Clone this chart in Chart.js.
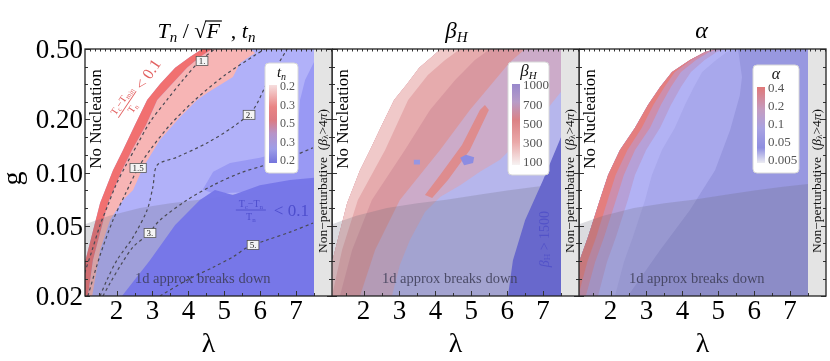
<!DOCTYPE html>
<html><head><meta charset="utf-8">
<script src="https://cdn.jsdelivr.net/npm/chart.js@4.4.1/dist/chart.umd.min.js"></script>
<style>
html,body{margin:0;padding:0;background:#fff;}
#wrap{position:relative;width:830px;height:361px;overflow:hidden;background:#fff;}
canvas{position:absolute;top:0;}
</style></head><body>
<div id="wrap">
<canvas id="p1" width="333" height="361" style="left:0px"></canvas>
<canvas id="p2" width="248" height="361" style="left:332px"></canvas>
<canvas id="p3" width="251" height="361" style="left:579px"></canvas>
</div>
<script>
// ---------------- DATA (λ, g) ----------------
const lambdaRange = [1.12, 8.0];
const gRange = [0.02, 0.5];
const lambdaTicks = [2, 3, 4, 5, 6, 7];
const lambdaMinorTicks = [1.5, 2.5, 3.5, 4.5, 5.5, 6.5, 7.5];
const topTickStep = 0.14;
const gTicks = [0.02, 0.05, 0.1, 0.2, 0.5];
const gTickLabels = ['0.02', '0.05', '0.10', '0.20', '0.50'];
const gMinorTicks = [0.0251, 0.0316, 0.0398, 0.063, 0.0794, 0.126, 0.159, 0.2515, 0.316, 0.398];
const perturbativeLimit = 7.5;
const lambdaEnd = 8.2;

// shared: "1d approx breaks down" upper edge
const oneDEdge = [[0.9,0.050],[1.12,0.051],[1.80,0.057],[2.65,0.063],[3.50,0.067],[4.30,0.070],[5.25,0.075],[6.00,0.079],[6.80,0.083],[7.50,0.086]];

// Panel 1: Tn/sqrt(F), t_n
const nucleationEdge = [[0.87,0.020],[1.12,0.0311],[1.54,0.0672],[1.90,0.103],[2.18,0.134],[2.51,0.186],[2.85,0.257],[3.21,0.317],[3.63,0.391],[4.04,0.450],[4.38,0.50]];
const strongEdge = [[1.20,0.020],[1.34,0.0319],[1.76,0.0672],[2.15,0.103],[2.43,0.134],[2.82,0.186],[3.13,0.257],[3.54,0.317],[3.96,0.391],[4.32,0.450],[4.66,0.50]];
const tnPinkEdge = [[5.72,0.50],[5.86,0.475],[5.44,0.417],[5.24,0.347],[4.52,0.282],[4.24,0.257],[3.77,0.206],[3.21,0.153],[2.74,0.107],[2.46,0.0796],[2.18,0.0698],[1.82,0.0538],[1.54,0.0364],[1.32,0.020]];
const tnMidRegion = [[7.50,0.422],[7.25,0.334],[7.11,0.257],[7.05,0.174],[6.83,0.134],[5.99,0.121],[5.16,0.113],[4.69,0.101],[4.40,0.080],[4.70,0.076],[7.50,0.080]];
const tcTnRegion = [[2.15,0.020],[2.93,0.0319],[3.63,0.0504],[4.32,0.0698],[4.74,0.0796],[5.24,0.0746],[5.99,0.0848],[6.83,0.0906],[7.50,0.0933],[7.50,0.020]];
const contour1 = [[0.98,0.0216],[1.12,0.0273],[1.32,0.0364],[1.54,0.0504],[1.76,0.0655],[1.98,0.0848],[2.26,0.110],[2.57,0.143],[2.93,0.193],[3.40,0.257],[3.85,0.334],[4.32,0.428],[4.74,0.50]];
const contour15 = [[1.20,0.020],[1.54,0.0340],[1.90,0.0538],[2.23,0.0746],[2.60,0.106],[2.93,0.134],[3.49,0.186],[4.18,0.257],[5.02,0.356],[5.86,0.462],[6.13,0.50]];
const contour2 = [[1.54,0.020],[1.73,0.0246],[2.01,0.0319],[2.46,0.0431],[2.85,0.0613],[3.01,0.0826],[3.13,0.110],[3.68,0.122],[4.52,0.147],[5.24,0.181],[5.80,0.226],[6.19,0.321],[6.75,0.50]];
const contour3 = [[1.62,0.020],[1.82,0.0237],[2.15,0.0307],[2.46,0.0379],[2.85,0.0443],[3.21,0.0538],[3.96,0.0698],[4.69,0.0848],[5.44,0.0993],[6.13,0.110],[6.83,0.122],[7.47,0.138]];
const contour5 = [[3.21,0.020],[3.96,0.0246],[4.69,0.0291],[5.24,0.0333],[5.66,0.0379],[6.19,0.0415],[6.83,0.046],[7.47,0.0517]];
const contourLabels = [['1.',4.38,0.428],['1.5',2.60,0.106],['2.',5.69,0.212],['3.',2.93,0.0454],['5.',5.80,0.0389]];
const tnBarLabels = ['0.2','0.3','0.5','0.3','0.2'];

// Panel 2: beta_H
const nucleationEdgeB = [[0.87,0.02],[1.12,0.031],[1.54,0.067],[1.90,0.103],[2.18,0.134],[2.51,0.186],[2.85,0.257],[3.21,0.317],[3.55,0.391],[3.90,0.450],[4.15,0.50]];
const beta300Edge = [[1.12,0.02],[1.40,0.0364],[1.84,0.0698],[2.60,0.134],[3.24,0.257],[3.79,0.356],[4.27,0.433],[4.69,0.5]];
const beta500Edge = [[1.34,0.02],[1.68,0.0364],[2.23,0.0698],[3.15,0.134],[3.85,0.226],[4.55,0.334],[5.10,0.433],[5.52,0.5]];
const beta700Edge = [[1.90,0.02],[2.32,0.0364],[3.01,0.0698],[4.13,0.134],[4.96,0.226],[5.66,0.334],[6.08,0.422],[6.50,0.5]];
const beta1000Edge = [[7.5,0.286],[6.91,0.203],[6.36,0.153],[5.80,0.118],[5.24,0.101],[4.69,0.0848],[4.13,0.0727],[3.71,0.0598],[3.29,0.0415],[3.01,0.0300],[2.79,0.02]];
const beta1500Region = [[7.5,0.159],[7.0,0.0906],[6.5,0.0538],[6.16,0.0319],[6.02,0.02],[7.5,0.02]];
const betaStreak = [[5.38,0.241],[5.49,0.226],[4.96,0.134],[4.35,0.0906],[3.91,0.0717],[3.71,0.0746],[4.13,0.0968],[4.74,0.143],[5.24,0.226]];
const betaSpotA = [[4.69,0.121],[4.85,0.126],[5.08,0.122],[5.05,0.113],[4.80,0.110]];
const betaSpotB = [[3.40,0.118],[3.57,0.118],[3.57,0.111],[3.40,0.111]];
const betaBarLabels = ['1000','700','500','300','100'];

// Panel 3: alpha
const nucleationEdgeA = [[0.87,0.020],[1.12,0.0311],[1.37,0.0431],[1.70,0.0698],[1.93,0.0968],[2.26,0.134],[2.68,0.179],[3.04,0.241],[3.38,0.305],[3.71,0.370],[4.21,0.433],[4.63,0.481],[4.91,0.5]];
const alpha04Edge = [[1.10,0.020],[1.35,0.0311],[1.60,0.0431],[1.92,0.0698],[2.14,0.0968],[2.47,0.134],[2.87,0.179],[3.19,0.241],[3.50,0.305],[3.79,0.370],[4.25,0.433],[4.65,0.481],[4.92,0.5]];
const alpha02Edge = [[1.31,0.020],[1.57,0.0311],[1.82,0.0431],[2.15,0.0698],[2.37,0.0968],[2.68,0.134],[3.10,0.179],[3.40,0.241],[3.68,0.305],[3.96,0.370],[4.38,0.433],[4.75,0.481],[5.01,0.5]];
const alpha01Edge = [[1.65,0.020],[1.90,0.0311],[2.15,0.0431],[2.48,0.0698],[2.68,0.0968],[2.99,0.134],[3.38,0.179],[3.68,0.241],[3.96,0.305],[4.24,0.370],[4.62,0.433],[4.96,0.481],[5.20,0.5]];
const alpha005Edge = [[2.12,0.020],[2.37,0.0311],[2.62,0.0431],[2.96,0.0698],[3.15,0.0968],[3.43,0.134],[3.79,0.179],[4.07,0.241],[4.32,0.305],[4.55,0.370],[4.94,0.433],[5.24,0.481],[5.47,0.5]];
const alphaLowEdge = [[2.48,0.02],[3.38,0.0364],[4.21,0.0613],[4.91,0.103],[5.33,0.174],[5.60,0.274],[5.66,0.347],[5.55,0.5]];
const alphaBarLabels = ['0.4','0.2','0.1','0.05','0.005'];

// ---------------- helpers ----------------
const SERIF = "'Liberation Serif','Times New Roman',serif";
const P = a => a.map(([x, y]) => ({x, y}));
const rev = a => a.slice().reverse();
function region(points, color) {
  return {type:'line', data:P(points), fill:'shape', backgroundColor:color, borderColor:'rgba(0,0,0,0)', borderWidth:0, pointRadius:0, tension:0};
}
function dashed(points) {
  return {type:'line', data:P(points), fill:false, borderColor:'#4a4a55', borderWidth:1.2, borderDash:[3,3], pointRadius:0, tension:0.3};
}
const nonPert = [[perturbativeLimit,0.015],[perturbativeLimit,0.6],[lambdaEnd,0.6],[lambdaEnd,0.015]];
const GREY_OVER = 'rgba(105,105,120,0.24)';
const oneDRegion = [...oneDEdge, [7.5,0.015],[0.9,0.015]];

function rich(ctx, parts, x, y, align) {
  let w = 0;
  for (const p of parts) { ctx.font = p.f; w += ctx.measureText(p.t).width; }
  let cx = align === 'center' ? x - w/2 : (align === 'right' ? x - w : x);
  ctx.textAlign = 'left';
  for (const p of parts) {
    ctx.font = p.f;
    const tw = ctx.measureText(p.t).width;
    ctx.fillText(p.t, cx, y + (p.dy || 0));
    if (p.over) { ctx.save(); ctx.lineWidth = 1.2; ctx.strokeStyle = ctx.fillStyle; ctx.beginPath(); ctx.moveTo(cx - 1, y - p.over); ctx.lineTo(cx + tw + 2, y - p.over); ctx.stroke(); ctx.restore(); }
    cx += tw;
  }
  return w;
}
function rotText(ctx, parts, cx, cy, ang, color) {
  ctx.save(); ctx.translate(cx, cy); ctx.rotate(ang); ctx.fillStyle = color; ctx.textBaseline = 'middle';
  rich(ctx, parts, 0, 0, 'center'); ctx.restore();
}
function roundBox(ctx, x, y, w, h, r) {
  ctx.beginPath(); ctx.moveTo(x+r, y); ctx.lineTo(x+w-r, y); ctx.quadraticCurveTo(x+w, y, x+w, y+r);
  ctx.lineTo(x+w, y+h-r); ctx.quadraticCurveTo(x+w, y+h, x+w-r, y+h); ctx.lineTo(x+r, y+h);
  ctx.quadraticCurveTo(x, y+h, x, y+h-r); ctx.lineTo(x, y+r); ctx.quadraticCurveTo(x, y, x+r, y); ctx.closePath();
}
function colorbar(ctx, bx, by, bw, bh, titleParts, labels, stops, fs) {
  ctx.save();
  roundBox(ctx, bx, by, bw, bh, 4); ctx.fillStyle = '#fff'; ctx.fill(); ctx.strokeStyle = '#d8d8d8'; ctx.lineWidth = 1; ctx.stroke();
  ctx.fillStyle = '#111'; ctx.textBaseline = 'alphabetic';
  rich(ctx, titleParts, bx + bw/2, by + 14, 'center');
  const x0 = bx + 4, y0 = by + 22, y1 = by + bh - 10;
  const g = ctx.createLinearGradient(0, y0, 0, y1);
  stops.forEach(([o, c]) => g.addColorStop(o, c));
  ctx.fillStyle = g; ctx.fillRect(x0, y0, 8, y1 - y0);
  ctx.fillStyle = '#555'; ctx.font = fs + 'px ' + SERIF; ctx.textAlign = 'left'; ctx.textBaseline = 'middle';
  labels.forEach((t, i) => ctx.fillText(t, x0 + 11, y0 + 2 + i * (y1 - y0 - 4) / (labels.length - 1)));
  ctx.restore();
}

function decor(extra, yLabels) {
  return {
    id: 'decor',
    afterDatasetsDraw(chart) {
      const {ctx, chartArea: a, scales: {x, y}} = chart;
      ctx.save();
      extra(ctx, a, x, y);
      ctx.strokeStyle = '#333'; ctx.lineWidth = 1;
      ctx.beginPath();
      for (const v of lambdaTicks) { const px = Math.round(x.getPixelForValue(v)) + 0.5; ctx.moveTo(px, a.bottom); ctx.lineTo(px, a.bottom - 5); }
      for (const v of lambdaMinorTicks) { const px = Math.round(x.getPixelForValue(v)) + 0.5; ctx.moveTo(px, a.bottom); ctx.lineTo(px, a.bottom - 3); }
      for (let v = lambdaRange[0] + topTickStep; v < lambdaRange[1]; v += topTickStep) { const px = Math.round(x.getPixelForValue(v)) + 0.5; ctx.moveTo(px, a.top); ctx.lineTo(px, a.top + 2.5); }
      for (const v of gTicks) { const py = Math.round(y.getPixelForValue(v)) + 0.5; ctx.moveTo(a.left, py); ctx.lineTo(a.left + 5, py); ctx.moveTo(a.right, py); ctx.lineTo(a.right - 5, py); }
      for (const v of gMinorTicks) { const py = Math.round(y.getPixelForValue(v)) + 0.5; ctx.moveTo(a.left, py); ctx.lineTo(a.left + 3, py); ctx.moveTo(a.right, py); ctx.lineTo(a.right - 3, py); }
      ctx.stroke();
      ctx.lineWidth = 1.3; ctx.strokeStyle = '#222';
      ctx.strokeRect(a.left, a.top, a.right - a.left, a.bottom - a.top);
      ctx.fillStyle = '#000'; ctx.textAlign = 'center'; ctx.textBaseline = 'alphabetic';
      ctx.font = '27px ' + SERIF;
      for (const v of lambdaTicks) ctx.fillText(String(v), x.getPixelForValue(v), a.bottom + 23);
      ctx.font = '28px ' + SERIF;
      ctx.fillText('λ', (a.left + a.right) / 2, a.bottom + 56);
      if (yLabels) {
        ctx.textAlign = 'right'; ctx.font = '27px ' + SERIF;
        gTicks.forEach((v, i) => ctx.fillText(gTickLabels[i], a.left - 2, y.getPixelForValue(v) + 9));
        ctx.save(); ctx.translate(a.left - 71, (a.top + a.bottom) / 2 + 6); ctx.rotate(-Math.PI / 2);
        ctx.textAlign = 'center'; ctx.textBaseline = 'middle'; ctx.font = '28px ' + SERIF; ctx.fillText('g', 0, 0); ctx.restore();
      }
      ctx.restore();
    }
  };
}

function commonText(ctx, a, x, y) {
  rotText(ctx, [{t:'No Nucleation', f:'17px ' + SERIF}], a.left + 12, a.top + 70, -Math.PI/2, '#000');
  const it = 'italic 13.5px ' + SERIF, rm = '13.5px ' + SERIF;
  rotText(ctx, [{t:'Non\u2212perturbative  (', f:rm}, {t:'\u03B2', f:it}, {t:'\u03BB', f:'9px ' + SERIF, dy:3}, {t:'>4', f:rm}, {t:'\u03C0', f:it}, {t:')', f:rm}],
    x.getPixelForValue((perturbativeLimit + 8.0) / 2), a.top + 132, -Math.PI/2, '#111');
  ctx.fillStyle = 'rgba(60,60,85,0.85)'; ctx.textAlign = 'center'; ctx.textBaseline = 'alphabetic';
  ctx.font = '14.5px ' + SERIF;
  ctx.fillText('1d approx breaks down', x.getPixelForValue(4.4), a.bottom - 13);
}

const baseOptions = (padL, padR) => ({
  responsive: false, animation: false, events: [],
  layout: {padding: {left: padL, right: padR, top: 49, bottom: 65}},
  scales: {
    x: {type: 'linear', min: lambdaRange[0], max: lambdaRange[1], display: false},
    y: {type: 'logarithmic', min: gRange[0], max: gRange[1], display: false}
  },
  plugins: {legend: {display: false}, tooltip: {enabled: false}, title: {display: false}},
  elements: {point: {radius: 0}}
});
function build(id, layers, plugin, padL, padR) {
  layers.forEach((d, i) => d.order = -i);
  return new Chart(document.getElementById(id), {type: 'line', data: {datasets: layers}, options: baseOptions(padL, padR), plugins: [plugin]});
}

// ---------------- Panel 1 ----------------
build('p1', [
  region([...nucleationEdge, [7.5,0.6],[7.5,0.015]], 'rgb(177,177,249)'),
  region(tnMidRegion, 'rgb(153,153,244)'),
  region([...strongEdge, ...tnPinkEdge], 'rgb(247,181,181)'),
  region([...nucleationEdge, ...rev(strongEdge)], 'rgb(241,112,112)'),
  region(oneDRegion, GREY_OVER),
  region(tcTnRegion, 'rgba(118,118,232,0.96)'),
  region(nonPert, 'rgb(228,228,228)'),
  dashed(contour1), dashed(contour15), dashed(contour2), dashed(contour3), dashed(contour5)
], decor((ctx, a, x, y) => {
  commonText(ctx, a, x, y);
  ctx.font = '9px ' + SERIF; ctx.textAlign = 'center'; ctx.textBaseline = 'middle';
  for (const [t, lx, lg] of contourLabels) {
    const px = x.getPixelForValue(lx), py = y.getPixelForValue(lg);
    const w = ctx.measureText(t).width + 5;
    ctx.fillStyle = '#f4f4f4'; ctx.fillRect(px - w/2, py - 4.5, w, 9);
    ctx.strokeStyle = '#555'; ctx.lineWidth = 0.8; ctx.strokeRect(px - w/2, py - 4.5, w, 9);
    ctx.fillStyle = '#222'; ctx.fillText(t, px, py + 0.5);
  }
  ctx.save(); ctx.translate(x.getPixelForValue(2.62), y.getPixelForValue(0.30)); ctx.rotate(-0.98);
  ctx.fillStyle = 'rgb(226,96,96)'; ctx.textBaseline = 'alphabetic';
  rich(ctx, [{t:'T', f:'10px ' + SERIF}, {t:'c', f:'7px ' + SERIF, dy:2}, {t:'\u2212T', f:'10px ' + SERIF}, {t:'min', f:'7px ' + SERIF, dy:2}], -20, -4, 'center');
  ctx.fillRect(-36, -1, 32, 0.9);
  rich(ctx, [{t:'T', f:'10px ' + SERIF}, {t:'n', f:'7px ' + SERIF, dy:2}], -20, 9, 'center');
  ctx.font = '16px ' + SERIF; ctx.textAlign = 'left'; ctx.fillText('< 0.1', 0, 5);
  ctx.restore();
  const bx = x.getPixelForValue(5.74), by = y.getPixelForValue(0.0613);
  ctx.fillStyle = 'rgb(78,78,205)'; ctx.textBaseline = 'alphabetic';
  rich(ctx, [{t:'T', f:'10px ' + SERIF}, {t:'c', f:'7px ' + SERIF, dy:2}, {t:'\u2212T', f:'10px ' + SERIF}, {t:'n', f:'7px ' + SERIF, dy:2}], bx, by - 3, 'center');
  ctx.fillRect(bx - 15, by - 0.5, 30, 0.9);
  rich(ctx, [{t:'T', f:'10px ' + SERIF}, {t:'n', f:'7px ' + SERIF, dy:2}], bx, by + 10, 'center');
  ctx.font = '17px ' + SERIF; ctx.textAlign = 'left'; ctx.fillText('< 0.1', bx + 23, by + 6);
  colorbar(ctx, a.right - 67, a.top + 14, 33, 110, [{t:'t', f:'italic 15px ' + SERIF}, {t:'n', f:'italic 10px ' + SERIF, dy:3}], tnBarLabels,
    [[0,'#f6dede'],[0.28,'#e98484'],[0.45,'#dc7a82'],[0.62,'#b793c8'],[0.82,'#9d9de8'],[1,'#7474dc']], 12);
  ctx.fillStyle = '#000'; ctx.textBaseline = 'alphabetic';
  rich(ctx, [{t:'T', f:'italic 22px ' + SERIF}, {t:'n', f:'italic 15px ' + SERIF, dy:4}, {t:' / ', f:'22px ' + SERIF}, {t:'\u221A', f:'22px ' + SERIF},
    {t:'F', f:'italic 22px ' + SERIF, over:17}, {t:'  , ', f:'22px ' + SERIF}, {t:'t', f:'italic 22px ' + SERIF}, {t:'n', f:'italic 15px ' + SERIF, dy:4}],
    (a.left + a.right) / 2 - 2, 38, 'center');
}, true), 85, 1);

// ---------------- Panel 2 ----------------
build('p2', [
  region([...nucleationEdgeB, [7.5,0.6],[7.5,0.015]], 'rgb(204,171,201)'),
  region([...nucleationEdgeB, ...rev(beta700Edge)], 'rgb(217,152,160)'),
  region([...nucleationEdgeB, ...rev(beta500Edge)], 'rgb(230,171,173)'),
  region([...nucleationEdgeB, ...rev(beta300Edge)], 'rgb(240,201,201)'),
  region([...beta1000Edge, [7.5,0.015]], 'rgb(182,182,236)'),
  region(betaStreak, 'rgb(222,140,142)'),
  region(betaSpotA, 'rgb(140,140,226)'),
  region(betaSpotB, 'rgb(150,150,226)'),
  region(oneDRegion, GREY_OVER),
  region(beta1500Region, 'rgb(104,104,204)'),
  region(nonPert, 'rgb(228,228,228)')
], decor((ctx, a, x, y) => {
  commonText(ctx, a, x, y);
  rotText(ctx, [{t:'\u03B2', f:'italic 14px ' + SERIF}, {t:'H', f:'9px ' + SERIF, dy:3}, {t:' > 1500', f:'14px ' + SERIF}],
    x.getPixelForValue(7.05), y.getPixelForValue(0.042), -Math.PI/2, 'rgba(80,80,200,0.9)');
  colorbar(ctx, a.left + 176, a.top + 13, 41, 113, [{t:'\u03B2', f:'italic 17px ' + SERIF}, {t:'H', f:'italic 11px ' + SERIF, dy:3}], betaBarLabels,
    [[0,'#9888cc'],[0.22,'#b79cc8'],[0.45,'#dc8285'],[0.72,'#eaa9a9'],[1,'#f7f2f2']], 13);
  ctx.fillStyle = '#000'; ctx.textBaseline = 'alphabetic';
  rich(ctx, [{t:'\u03B2', f:'italic 23px ' + SERIF}, {t:'H', f:'italic 15px ' + SERIF, dy:4}], (a.left + a.right) / 2 + 1, 38, 'center');
}, false), 0, 1);

// ---------------- Panel 3 ----------------
build('p3', [
  region([...nucleationEdgeA, [7.5,0.6],[7.5,0.015]], 'rgb(168,168,236)'),
  region([...alphaLowEdge, [7.5,0.6],[7.5,0.015]], 'rgb(152,152,224)'),
  region([...nucleationEdgeA, ...rev(alpha005Edge)], 'rgb(178,178,244)'),
  region([...nucleationEdgeA, ...rev(alpha01Edge)], 'rgb(182,160,215)'),
  region([...nucleationEdgeA, ...rev(alpha02Edge)], 'rgb(205,142,172)'),
  region([...nucleationEdgeA, ...rev(alpha04Edge)], 'rgb(228,126,126)'),
  region(oneDRegion, GREY_OVER),
  region(nonPert, 'rgb(228,228,228)')
], decor((ctx, a, x, y) => {
  commonText(ctx, a, x, y);
  colorbar(ctx, a.left + 174, a.top + 16, 46, 108, [{t:'\u03B1', f:'italic 16px ' + SERIF}], alphaBarLabels,
    [[0,'#e07878'],[0.3,'#c49cc0'],[0.55,'#a8a2e2'],[0.8,'#8e8ee0'],[1,'#ececf2']], 13);
  ctx.fillStyle = '#000'; ctx.textBaseline = 'alphabetic';
  rich(ctx, [{t:'\u03B1', f:'italic 24px ' + SERIF}], (a.left + a.right) / 2 - 1, 38, 'center');
}, false), 0, 4);
</script></body></html>
